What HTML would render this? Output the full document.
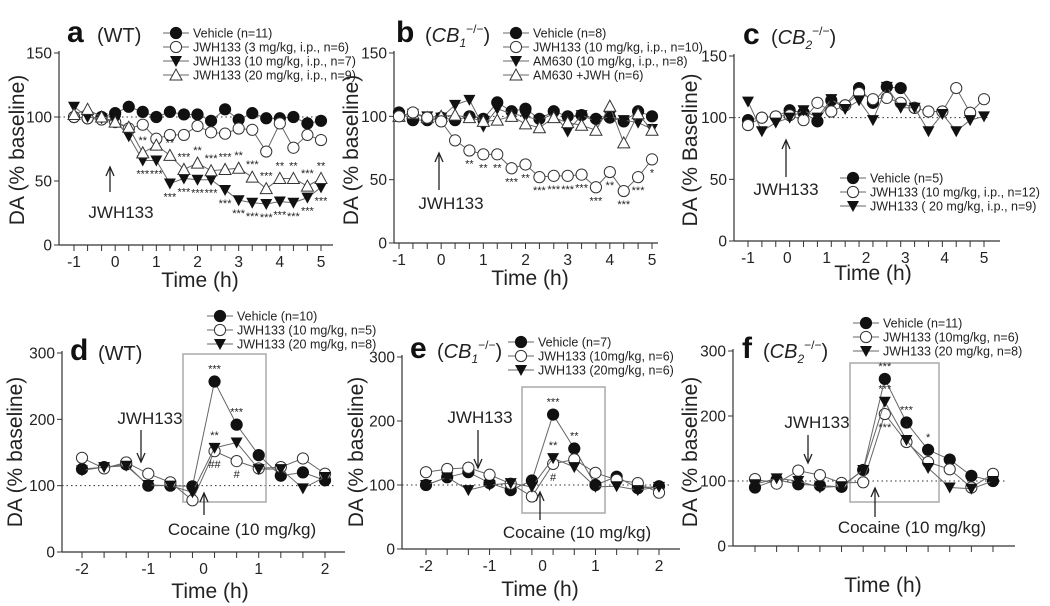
<!DOCTYPE html>
<html><head><meta charset="utf-8"><style>
body{margin:0;background:#fff}
svg{display:block;font-family:"Liberation Sans",Arial,sans-serif}
</style></head><body>
<svg id="fig" width="1050" height="606" viewBox="0 0 1050 606"></svg>
<script>
// ---------- DATA ----------
const aTimes=[-1,-0.67,-0.33,0,0.33,0.67,1,1.33,1.67,2,2.33,2.67,3,3.33,3.67,4,4.33,4.67,5];
const aVeh=[100,99,100,103,108,104,100,104,102,102,97,106,98,103,99,99,100,95,97];
const aJ3=[100,99,98,96,91,94,83,86,86,93,88,87,91,90,73,95,76,86,82];
const aJ10=[108,100,99,97,85,66,66,48,52,51,51,43,35,33,32,34,33,37,45];
const aJ20=[102,106,100,96,92,72,78,70,59,64,58,59,60,53,44,52,52,46,52];
const aStars10=['','','','','','***','***','***','***','***','***','***','***','***','***','***','***','***','***'];
const aStars20=['','','','','','**','','**','***','**','***','***','**','***','***','**','**','***','**'];

const bTimes=aTimes;
const bVeh=[103,97,97,99,97,100,98,111,104,106,98,104,100,101,98,99,96,104,100];
const bJ10=[100,103,99,96,81,73,70,70,59,62,52,53,53,54,44,56,41,52,66];
const bAM=[101,102,100,99,109,113,92,106,102,100,97,102,88,101,96,100,97,95,90];
const bAMJ=[100,102,99,100,101,99,96,97,100,94,91,99,95,93,89,108,79,102,89];
const bStars=['','','','','','**','**','**','***','**','***','***','***','***','***','**','***','***','*'];

const cTimes=[-1,-0.65,-0.3,0.05,0.4,0.75,1.1,1.45,1.8,2.15,2.5,2.85,3.2,3.55,3.9,4.25,4.6,4.95];
const cVeh=[98,100,101,106,104,97,114,110,124,112,125,124,108];
const cJ10=[94,100,101,102,98,112,105,110,120,115,116,112,108,105,105,124,104,115];
const cJ20=[113,89,96,100,106,100,115,107,114,98,125,108,108,89,103,89,98,101];

const dVeh=[125,128,132,100,100,99,257,192,146,115,120,108];
const dJ10=[142,126,135,118,105,78,152,137,126,128,141,118];
const dJ20=[123,128,130,101,100,90,157,165,125,125,96,113];
const dStarsVeh=['','','','','','','***','***','','','',''];
const dStarsJ20=['','','','','','','**','','','','',''];
const dStarsJ10=['','','','','','','##','#','','','',''];

const eVeh=[100,112,120,103,92,107,210,157,100,113,95,98];
const eJ10=[120,125,127,116,102,82,133,140,119,108,103,88];
const eJ20=[100,112,92,100,103,97,142,128,97,98,92,97];
const eStarsVeh=['','','','','','','***','**','','','',''];
const eStarsJ20=['','','','','','','**','','','','',''];
const eStarsJ10=['','','','','','','#','','','','',''];

const fVeh=[90,102,95,93,91,117,257,190,148,133,108,100];
const fJ10=[103,96,116,109,97,98,203,160,129,118,90,111];
const fJ20=[95,104,100,90,92,117,222,163,120,90,88,100];
const fStarsVeh=['','','','','','','***','***','*','','',''];
const fStarsJ20=['','','','','','','***','*','','','',''];
const fStarsJ10=['','','','','','','***','','','','',''];

const hTicksA=[-1,0,1,2,3,4,5];
const yTicksTop=[0,50,100,150];
const yTicksBot=[0,100,200,300];
const idxTicksDE=[0,3,5.5,8,11];
const idxLabelsDE=['-2','-1','0','1','2'];

// ---------- DRAW ----------
const NS='http://www.w3.org/2000/svg';
const svg=document.getElementById('fig');
function el(tag,attrs,parent,txt){const e=document.createElementNS(NS,tag);for(const k in attrs)e.setAttribute(k,attrs[k]);if(txt!==undefined)e.textContent=txt;(parent||svg).appendChild(e);return e;}
const LC='#666';
function marker(g,type,x,y){
  const r=5.6;let m;
  if(type==='fc')m=el('circle',{cx:x,cy:y,r:r,fill:'#111',stroke:'#111'},g);
  else if(type==='oc')m=el('circle',{cx:x,cy:y,r:r,fill:'#fff',stroke:'#333','stroke-width':1},g);
  else if(type==='td')m=el('polygon',{points:`${x-6},${y-5} ${x+6},${y-5} ${x},${y+6}`,fill:'#111'},g);
  else m=el('polygon',{points:`${x-6},${y+5} ${x+6},${y+5} ${x},${y-6}`,fill:'#fff',stroke:'#333','stroke-width':1},g);
  return m;
}
function panel(p){
  const g=el('g',{},svg);
  
  
  const ys=v=>p.y0-(v/p.ymax)*(p.y0-p.yTop);
  const xs=p.xs;
  const ya=el('line',{x1:p.ax,y1:p.yTop-2,x2:p.ax,y2:p.y0,stroke:'#333','stroke-width':1.2},g);
  
  const xa=el('line',{x1:p.ax,y1:p.y0,x2:p.axR,y2:p.y0,stroke:'#333','stroke-width':1.2},g);
  
  p.yTicks.forEach(v=>{
    el('line',{x1:p.ax-5,y1:ys(v),x2:p.ax,y2:ys(v),stroke:'#333'},g);
    const t=el('text',{x:p.ax-7,y:ys(v)+5.5,'text-anchor':'end','font-size':15.5,fill:'#222'},g,String(v));
    
  });
  p.xTickPos.forEach(x=>el('line',{x1:x,y1:p.y0,x2:x,y2:p.y0+6,stroke:'#333'},g));
  p.xLabels.forEach(([x,s])=>{
    const t=el('text',{x:x,y:p.y0+22,'text-anchor':'middle','font-size':15.5,fill:'#222'},g,s);
    
  });
  const bl=el('line',{x1:p.ax,y1:ys(100),x2:p.axR-10,y2:ys(100),stroke:'#333','stroke-dasharray':'1.5,3'},g);
  
  if(p.box){const b=el('rect',{x:p.box[0],y:p.box[1],width:p.box[2]-p.box[0],height:p.box[3]-p.box[1],fill:'none',stroke:'#aaa','stroke-width':1.5},g);
    }
  const tt=el('text',{x:p.tx,y:p.ty,'text-anchor':'middle','font-size':21,fill:'#222'},g,'Time (h)');
  
  const yt=el('text',{x:0,y:0,'text-anchor':'middle','font-size':21,fill:'#222',transform:`translate(${p.ytx},${p.yty}) rotate(-90)`},g,p.ytitle);
  
  const lt=el('text',{x:p.letter[1],y:p.letter[2],'font-size':30,'font-weight':'bold',fill:'#111'},g,p.letter[0]);
  
  const gt=el('text',{x:p.geno[1],y:p.geno[2],'font-size':20,fill:'#222'},g);
  
  if(p.geno[0]==='WT'){gt.textContent='(WT)';}
  else{el('tspan',{},gt,'(');el('tspan',{'font-style':'italic'},gt,'CB');el('tspan',{'font-size':12,'font-style':'italic',dy:5},gt,p.geno[0]);el('tspan',{'font-size':12,dy:-14},gt,'−/−');el('tspan',{dy:9},gt,')');}
  p.series.forEach(s=>{
    const sg=el('g',{},g);
    
    const pts=s.data.map((v,i)=>[xs(i),ys(v)]);
    el('polyline',{points:pts.map(q=>q.join(',')).join(' '),fill:'none',stroke:LC,'stroke-width':1},sg);
    pts.forEach(q=>{const m=marker(sg,s.m,q[0],q[1]);});
    if(s.stars)s.stars.forEach((st,i)=>{if(!st||i>=s.data.length)return;
      const t=el('text',{x:xs(i),y:ys(s.data[i])+(s.below?17:-9),'text-anchor':'middle','font-size':11,fill:'#222'},sg,st);
      });
  });
  p.arrows.forEach(a=>{
    const ag=el('g',{},g);
    el('line',{x1:a.x,y1:a.y1,x2:a.x,y2:a.y2,stroke:'#222','stroke-width':1.3},ag);
    const hy=a.up?a.y1:a.y2,d=a.up?1:-1;
    el('polyline',{points:`${a.x-4},${hy+d*9} ${a.x},${hy} ${a.x+4},${hy+d*9}`,fill:'none',stroke:'#222','stroke-width':1.3},ag);
    el('text',{x:a.tx,y:a.ty,'text-anchor':'middle','font-size':17,fill:'#222'},ag,a.text);
  });
  p.legend.items.forEach((it,i)=>{
    const y=p.legend.y+i*p.legend.dy,x=p.legend.x;
    const lg=el('g',{},g);
    el('line',{x1:x,y1:y,x2:x+26,y2:y,stroke:LC},lg);marker(lg,it[0],x+13,y);
    el('text',{x:x+30,y:y+4.5,'font-size':12.5,fill:'#222'},lg,it[1]);
  });
}
function linX(times,t0,px0,t1,px1){return i=>px0+(times[i]-t0)/(t1-t0)*(px1-px0);}
function idxX(n,px0,px1){return i=>px0+i/(n-1)*(px1-px0);}

(function(){const xa=linX(aTimes,-1,74,5,321);
panel({name:'panel-a',ax:59,axR:333,y0:245,yTop:53,ymax:150,yTicks:yTicksTop,xs:xa,
 xTickPos:aTimes.map((t,i)=>xa(i)),xLabels:hTicksA.map(t=>[74+(t+1)/6*247,String(t)]),
 tx:200,ty:287,ytx:24,yty:150,ytitle:'DA (% baseline)',letter:['a',67,42],geno:['WT',97,42],
 series:[{key:'vehicle',m:'fc',data:aVeh},{key:'jwh3',m:'oc',data:aJ3},{key:'jwh10',m:'td',data:aJ10,stars:aStars10,below:true},{key:'jwh20',m:'tu',data:aJ20,stars:aStars20}],
 arrows:[{name:'jwh133',x:110,y1:167,y2:192,up:true,tx:121,ty:218,text:'JWH133'}],
 legend:{x:163,y:33,dy:14,items:[['fc','Vehicle (n=11)'],['oc','JWH133 (3 mg/kg, i.p., n=6)'],['td','JWH133 (10 mg/kg, i.p., n=7)'],['tu','JWH133 (20 mg/kg, i.p., n=9)']]}});})();
(function(){const xb=linX(bTimes,-1,399,5,652);
panel({name:'panel-b',ax:394,axR:658,y0:243,yTop:53,ymax:150,yTicks:yTicksTop,xs:xb,
 xTickPos:bTimes.map((t,i)=>xb(i)),xLabels:hTicksA.map(t=>[399+(t+1)/6*253,String(t)]),
 tx:530,ty:285,ytx:358,yty:150,ytitle:'DA (% baseline)',letter:['b',396,42],geno:['1',425,42],
 series:[{key:'vehicle',m:'fc',data:bVeh},{key:'am630',m:'td',data:bAM},{key:'am630-jwh',m:'tu',data:bAMJ},{key:'jwh10',m:'oc',data:bJ10,stars:bStars,below:true}],
 arrows:[{name:'jwh133',x:439,y1:153,y2:190,up:true,tx:451,ty:209,text:'JWH133'}],
 legend:{x:503,y:33,dy:14,items:[['fc','Vehicle (n=8)'],['oc','JWH133 (10 mg/kg, i.p., n=10)'],['td','AM630 (10 mg/kg, i.p., n=8)'],['tu','AM630 +JWH (n=6)']]}});})();
(function(){const xc=linX(cTimes,-1,748,4.95,984);
panel({name:'panel-c',ax:734,axR:1000,y0:241,yTop:56,ymax:150,yTicks:yTicksTop,xs:xc,
 xTickPos:cTimes.map((t,i)=>xc(i)),xLabels:hTicksA.map(t=>[748+(t+1)/6*236,String(t)]),
 tx:873,ty:280,ytx:697,yty:150,ytitle:'DA (% Baseline)',letter:['c',743,44],geno:['2',771,44],
 series:[{key:'vehicle',m:'fc',data:cVeh},{key:'jwh10',m:'oc',data:cJ10},{key:'jwh20',m:'td',data:cJ20}],
 arrows:[{name:'jwh133',x:786,y1:140,y2:177,up:true,tx:786,ty:195,text:'JWH133'}],
 legend:{x:840,y:178,dy:14,items:[['fc','Vehicle (n=5)'],['oc','JWH133 (10 mg/kg, i.p., n=12)'],['td','JWH133 ( 20 mg/kg, i.p., n=9)']]}});})();
(function(){const xd=idxX(dVeh.length,82,325);
panel({name:'panel-d',ax:62,axR:345,y0:552,yTop:353,ymax:300,yTicks:yTicksBot,xs:xd,
 xTickPos:dVeh.map((v,i)=>xd(i)),xLabels:idxTicksDE.map((k,j)=>[82+k/11*243,idxLabelsDE[j]]),
 tx:210,ty:598,ytx:22,yty:452,ytitle:'DA (% baseline)',letter:['d',70,360],geno:['WT',98,360],box:[183,354,266,502],
 series:[{key:'vehicle',m:'fc',data:dVeh,stars:dStarsVeh},{key:'jwh10',m:'oc',data:dJ10,stars:dStarsJ10,below:true},{key:'jwh20',m:'td',data:dJ20,stars:dStarsJ20}],
 arrows:[{name:'jwh133',x:141,y1:430,y2:462,up:false,tx:150,ty:424,text:'JWH133'},{name:'cocaine',x:204,y1:493,y2:515,up:true,tx:242,ty:535,text:'Cocaine (10 mg/kg)'}],
 legend:{x:207,y:316,dy:14,items:[['fc','Vehicle (n=10)'],['oc','JWH133 (10 mg/kg, n=5)'],['td','JWH133 (20 mg/kg, n=8)']]}});})();
(function(){const xe=idxX(eVeh.length,426,659);
panel({name:'panel-e',ax:402,axR:680,y0:549,yTop:357,ymax:300,yTicks:yTicksBot,xs:xe,
 xTickPos:eVeh.map((v,i)=>xe(i)),xLabels:idxTicksDE.map((k,j)=>[426+k/11*233,idxLabelsDE[j]]),
 tx:540,ty:596,ytx:363,yty:452,ytitle:'DA (% baseline)',letter:['e',410,358],geno:['1',437,358],box:[522,387,605,513],
 series:[{key:'vehicle',m:'fc',data:eVeh,stars:eStarsVeh},{key:'jwh10',m:'oc',data:eJ10,stars:eStarsJ10,below:true},{key:'jwh20',m:'td',data:eJ20,stars:eStarsJ20}],
 arrows:[{name:'jwh133',x:478,y1:430,y2:468,up:false,tx:480,ty:423,text:'JWH133'},{name:'cocaine',x:540,y1:492,y2:520,up:true,tx:577,ty:538,text:'Cocaine (10 mg/kg)'}],
 legend:{x:508,y:342,dy:14,items:[['fc','Vehicle (n=7)'],['oc','JWH133 (10mg/kg, n=6)'],['td','JWH133 (20mg/kg, n=6)']]}});})();
(function(){const xf=idxX(fVeh.length,755,993);
panel({name:'panel-f',ax:733,axR:1015,y0:546,yTop:351,ymax:300,yTicks:yTicksBot,xs:xf,
 xTickPos:fVeh.map((v,i)=>xf(i)),xLabels:[],
 tx:883,ty:592,ytx:697,yty:452,ytitle:'DA (% baseline)',letter:['f',742,358],geno:['2',763,358],box:[850,363,939,502],
 series:[{key:'vehicle',m:'fc',data:fVeh,stars:fStarsVeh},{key:'jwh10',m:'oc',data:fJ10,stars:fStarsJ10,below:true},{key:'jwh20',m:'td',data:fJ20,stars:fStarsJ20}],
 arrows:[{name:'jwh133',x:808,y1:435,y2:463,up:false,tx:817,ty:428,text:'JWH133'},{name:'cocaine',x:875,y1:488,y2:517,up:true,tx:912,ty:533,text:'Cocaine (10 mg/kg)'}],
 legend:{x:853,y:323,dy:14,items:[['fc','Vehicle (n=11)'],['oc','JWH133 (10mg/kg, n=6)'],['td','JWH133 (20 mg/kg, n=8)']]}});})();
</script>
</body></html>
